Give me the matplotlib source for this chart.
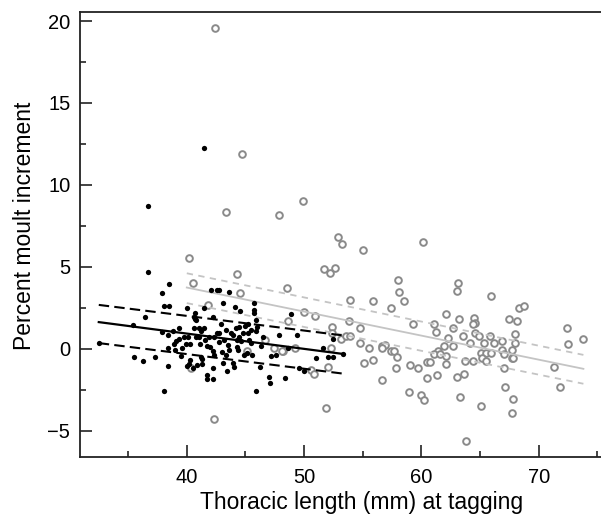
"""Percent moult increment against thoracic length at tagging
"""

import numpy as np
import matplotlib
matplotlib.use('Agg')
import matplotlib.pyplot as plt

plt.rcParams['font.family'] = ['Liberation Sans', 'DejaVu Sans']

# black group (smaller animals), filled dots
black_x = [32.5, 35.4, 36.4, 36.7, 36.7, 41.5,
           37.9, 38.5, 38.1, 38.5,
           35.5, 36.3, 37.3, 38.1, 38.4, 38.4, 38.4,
           37.9, 38.8, 38.9, 39.1, 39.3, 39.3, 39.5, 39.9, 39.8, 40.1, 40.06,
           40.26, 40.06, 40.5, 40.2, 40.85, 41.2, 41.3, 41.3,
           40.6, 40.8, 40.7, 40.6, 41.0, 41.5, 41.2, 40.7, 41.5,
           42.1, 42.6, 42.75, 42.2, 40.8, 41.0, 41.56, 41.76,
           41.9, 42.3, 42.6, 42.0, 42.2, 42.3,
           41.76, 41.7, 42.2, 42.2, 42.75, 42.75, 43.1, 43.6,
           43.2, 43.5, 43.6, 43.3, 43.1, 43.4, 43.9, 44.0,
           43.3, 43.75, 43.9, 44.1, 44.5, 44.2, 44.46,
           44.26, 44.46, 44.6, 44.3, 44.4, 44.9, 45.1,
           45.0, 45.2, 45.2, 45.5, 45.3, 45.5, 45.6,
           45.74, 45.74, 45.7, 45.9, 46.0, 45.9, 45.9, 46.2, 46.5,
           47.0, 47.1, 47.2, 47.6, 47.9, 48.4, 48.9, 49.4, 49.6, 50.0,
           48.6, 51.6, 51.0, 52.0, 52.5, 52.5, 53.3,
           39.6, 40.3, 42.9, 43.0, 44.8, 46.3, 41.1, 39.0]
black_y = [0.35, 1.44, 1.97, 8.74, 4.68, 12.27,
           3.43, 3.94, 2.64, 2.64,
           -0.51, -0.77, -0.51, -2.6, -1.02, 0.04, 0.85,
           1.05, 1.10, 0.29, 0.49, 0.59, 1.26, -0.45, 0.29, 0.75, 0.75, 2.52,
           -0.71, -1.04, -1.18, -0.9, -0.98, -0.47, -0.63, -0.91,
           1.97, 1.73, 1.85, 1.26, 1.26, 1.26, 1.10, 2.21, 2.48,
           3.56, 3.56, 3.56, 1.93, 0.75, 0.75, 0.51, 0.18,
           0.75, 0.75, 0.96, 0.14, -0.12, -0.37,
           -1.59, -1.83, -1.85, -1.14, 0.96, 0.41, 2.82, 3.49,
           0.55, 0.24, -0.06, -0.37, -0.87, -1.38, -0.87, -1.08,
           1.16, 0.99, 0.85, 2.54, 2.28, 1.26, 1.36,
           0.55, 0.71, 0.45, 0.14, -0.06, -0.37, -0.26,
           1.40, 1.52, 0.96, 1.16, 0.55, 0.35, -0.37,
           2.82, 2.38, 2.18, 1.77, 1.32, 1.06, -2.6, -1.08, 0.71,
           -1.69, -2.09, -0.41, -0.37, 0.85, -1.79, 2.11, 0.85, -1.18, -1.38,
           0.06, 0.06, -0.57, -0.51, -0.51, 0.59, -0.32,
           0.05, 0.3, 1.5, -0.2, 0.95, 0.2, 0.3, -0.1]

# grey group (larger animals), open circles
grey_x = [42.4, 44.7, 43.3, 47.9, 49.9, 52.9, 53.2, 55.0, 40.2, 60.1,
          51.7, 52.2, 52.6, 48.5, 58.0, 58.1, 58.5, 63.1, 63.0, 65.9,
          53.9, 55.9, 57.4, 68.3, 68.7, 62.1, 50.0, 50.9, 48.6, 53.8,
          59.3, 63.2, 64.5, 64.6, 64.4, 67.5, 68.1, 61.1, 62.7, 61.2,
          52.4, 52.4, 54.8, 63.5, 64.6, 64.9, 65.8, 68.0, 62.3,
          53.1, 53.6, 53.9, 54.8, 64.1, 65.3, 66.2, 66.9, 68.0, 61.9, 62.7,
          55.5, 56.6, 56.9, 56.6, 52.3, 49.2, 48.2, 57.4, 57.7, 57.9,
          61.4, 61.1, 61.6, 62.1, 65.1, 65.5, 65.2, 65.9, 65.5,
          66.9, 67.0, 67.7, 67.7, 67.8, 52.0, 55.9, 55.1, 57.8, 59.0, 59.7,
          60.5, 60.7, 62.1, 63.7, 64.4, 67.0, 71.3, 72.4, 72.5, 73.8, 71.8,
          56.6, 60.5, 61.3, 63.0, 63.6, 58.9, 60.0, 60.2, 63.3, 65.1,
          67.1, 67.8, 67.7, 51.9, 63.8, 50.6, 50.8,
          40.5, 44.3, 44.5, 41.8, 46.7, 47.4, 48.1, 45.1, 40.4, 42.3]
grey_y = [19.55, 11.87, 8.33, 8.15, 9.02, 6.81, 6.40, 6.02, 5.53, 6.5,
          4.86, 4.62, 4.96, 3.74, 4.17, 3.48, 2.93, 4.0, 3.52, 3.21,
          2.99, 2.89, 2.48, 2.52, 2.64, 2.11, 2.24, 1.99, 1.69, 1.71,
          1.54, 1.79, 1.89, 1.57, 1.51, 1.81, 1.67, 1.51, 1.30, 1.02,
          1.36, 0.99, 1.30, 0.81, 0.96, 0.81, 0.81, 0.91, 0.69,
          0.61, 0.77, 0.77, 0.38, 0.38, 0.35, 0.35, 0.49, 0.35, 0.18, 0.18,
          0.04, 0.2, 0.23, 0.04, 0.06, 0.02, -0.16, -0.14, -0.12, -0.47,
          -0.12, -0.29, -0.29, -0.43, -0.24, -0.26, -0.55, -0.26, -0.73,
          -0.08, -0.3, -0.08, -0.53, -0.53, -1.08, -0.67, -0.87, -1.16, -0.98, -1.14,
          -0.79, -0.79, -0.91, -0.73, -0.73, -1.14, -1.08, 1.28, 0.30, 0.59, -2.32,
          -1.91, -1.77, -1.59, -1.69, -1.52, -2.66, -2.79, -3.11, -2.95, -3.48,
          -2.34, -3.05, -3.92, -3.62, -5.6, -1.32, -1.54,
          4.0, 4.55, 3.43, 2.68, 0.51, 0.04, -0.16, -0.16, -1.18, -4.3]

# fitted lines: values at both ends of each fit
black_fit_x = [32.5, 53.4]
black_fit = [1.63, -0.32]
black_upper = [2.68, 0.81]
black_lower = [0.35, -1.52]

grey_fit_x = [40.0, 73.8]
grey_fit = [3.74, -1.22]
grey_upper = [4.61, -0.37]
grey_lower = [2.79, -2.13]

x_ticks = [40, 50, 60, 70]
y_ticks = [-5, 0, 5, 10, 15, 20]

grey_edge = '#8a8a8a'
grey_line = '#c4c4c4'

fig = plt.figure(figsize=(6.01, 5.17), dpi=100)
ax = fig.add_axes([80 / 601, 1 - 457 / 517, 521 / 601, 445 / 517])

ax.plot(grey_x, grey_y, 'o', ms=4.8, mfc='white', mec=grey_edge, mew=1.4,
        zorder=2)
ax.plot(grey_fit_x, grey_fit, color=grey_line, lw=1.3, zorder=3)
for band in (grey_upper, grey_lower):
    ax.plot(grey_fit_x, band, color=grey_line, lw=1.3, dashes=(3.5, 3),
            zorder=3)

ax.plot(black_x, black_y, 'o', ms=3.8, color='black', mew=0, zorder=4)
ax.plot(black_fit_x, black_fit, color='black', lw=1.6, zorder=5)
for band in (black_upper, black_lower):
    ax.plot(black_fit_x, band, color='black', lw=1.5, dashes=(5, 2.5),
            zorder=5)

ax.set_xlim(30.9, 75.3)
ax.set_ylim(-6.6, 20.55)
ax.set_xticks(x_ticks)
ax.set_yticks(y_ticks)
ax.set_xticks(np.arange(35, 76, 10), minor=True)
ax.set_yticks(np.arange(-2.5, 20, 5), minor=True)
ax.yaxis.set_major_formatter(
    matplotlib.ticker.FuncFormatter(lambda v, p: '{:d}'.format(int(v)).replace('-', '\u2212')))

ax.tick_params(which='both', direction='in', labelsize=14.5, width=1.2,
               color='#222222', right=False, top=False)
ax.tick_params(which='major', length=8.5)
ax.tick_params(which='minor', length=4.5)
ax.tick_params(axis='x', pad=8)
ax.tick_params(axis='y', pad=7)

for side in ('left', 'bottom', 'top'):
    ax.spines[side].set_linewidth(1.3)
    ax.spines[side].set_color('#222222')
ax.spines['right'].set_visible(False)

ax.set_xlabel('Thoracic length (mm) at tagging', fontsize=16.5)
ax.xaxis.set_label_coords((361.5 - 80) / 521, -(503 - 457) / 445)
ax.xaxis.label.set_va('center')
ax.set_ylabel('Percent moult increment', fontsize=16.5)
ax.yaxis.set_label_coords(-(80 - 25) / 521, (457 - 226) / 445)
ax.yaxis.label.set_va('center')

fig.savefig('out.png', dpi=100)
